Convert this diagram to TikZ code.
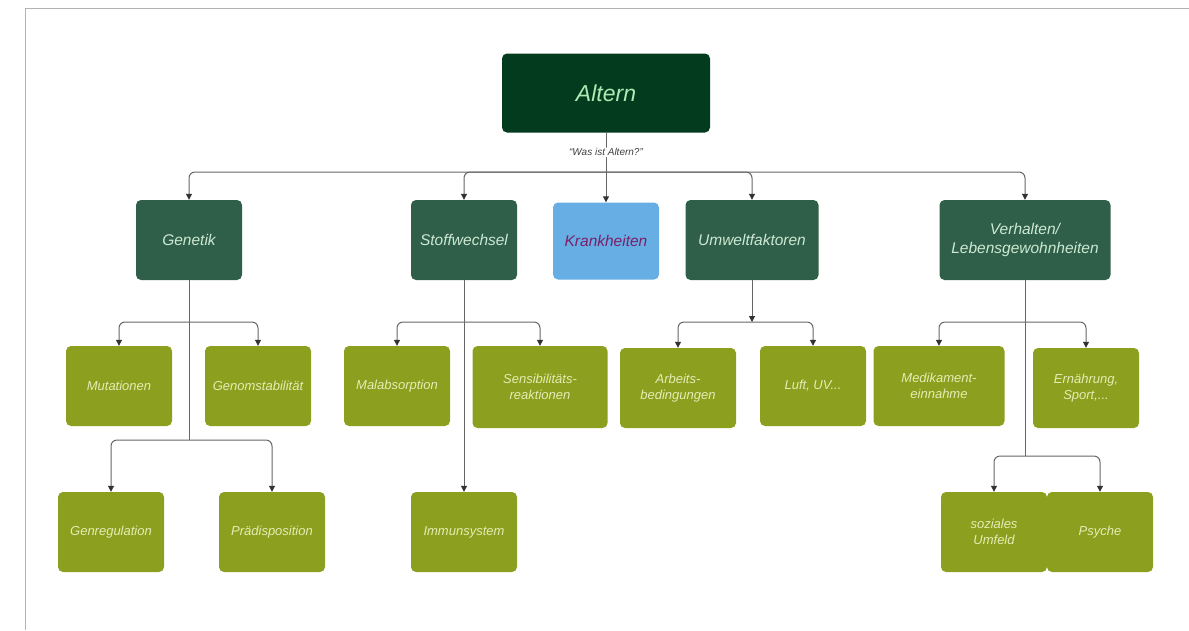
\documentclass[tikz,border=0pt]{standalone}
\usepackage{fontspec}
\setmainfont{Liberation Sans}
\setsansfont{Liberation Sans}
\usetikzlibrary{arrows.meta,positioning}
\definecolor{topgreen}{HTML}{033B1F}
\definecolor{midgreen}{HTML}{2F5F48}
\definecolor{olive}{HTML}{8C9F1F}
\definecolor{skyblue}{HTML}{66AEE3}
\definecolor{plum}{HTML}{7B1F6A}
\definecolor{palegreen}{HTML}{E4EEB4}
\definecolor{mintgreen}{HTML}{CDE8D3}
\definecolor{linegray}{HTML}{666666}

\begin{document}
\begin{tikzpicture}[x=1pt,y=-1pt,font=\sffamily\itshape,>={Triangle[width=6pt,length=6pt,color=black!80]},
  box/.style={rounded corners=5pt,minimum width=106pt,minimum height=80pt,align=center,inner sep=2pt},
  topbox/.style={box,fill=topgreen,text=mintgreen!85!green,minimum width=208pt,minimum height=79pt,font=\sffamily\itshape\fontsize{23}{27}\selectfont},
  areabox/.style={box,fill=midgreen,text=mintgreen,font=\sffamily\itshape\fontsize{15.5}{19}\selectfont},
  leafbox/.style={box,fill=olive,text=palegreen,font=\sffamily\itshape\fontsize{13}{16}\selectfont},
  link/.style={draw=linegray,line width=1pt,rounded corners=6pt}]
\useasboundingbox (0,0) rectangle (1189,630);
% frame
\draw[gray!60,line width=1pt] (1189,8) -- (25,8) -- (25,630);

% root
\node[topbox] (alt) at (606,93) {Altern};

% first level
\node[areabox] (gen) at (189,240) {Genetik};
\node[areabox] (stw) at (464,240) {Stoffwechsel};
\node[box,fill=skyblue,text=plum,minimum height=77pt,font=\sffamily\itshape\fontsize{15.5}{19}\selectfont] (kra) at (606,241) {Krankheiten};
\node[areabox,minimum width=133pt] (umw) at (752,240) {Umweltfaktoren};
\node[areabox,minimum width=171pt] (ver) at (1025,240) {Verhalten/\\Lebensgewohnheiten};

% second level
\node[leafbox] (mut) at (119,386) {Mutationen};
\node[leafbox] (gst) at (258,386) {Genomstabilität};
\node[leafbox] (grg) at (111,532) {Genregulation};
\node[leafbox] (prd) at (272,532) {Prädisposition};
\node[leafbox] (mal) at (397,386) {Malabsorption};
\node[leafbox,minimum width=135pt,minimum height=82pt] (sen) at (540,387) {Sensibilitäts-\\reaktionen};
\node[leafbox] (imm) at (464,532) {Immunsystem};
\node[leafbox,minimum width=116pt] (arb) at (678,388) {Arbeits-\\bedingungen};
\node[leafbox] (luf) at (813,386) {Luft, UV...};
\node[leafbox,minimum width=131pt] (med) at (939,386) {Medikament-\\einnahme};
\node[leafbox] (ern) at (1086,388) {Ernährung,\\Sport,...};
\node[leafbox] (soz) at (994,532) {soziales\\Umfeld};
\node[leafbox] (psy) at (1100,532) {Psyche};

% junctions
\coordinate (j0) at (606,172);
\coordinate (g1) at (189,322);
\coordinate (g2) at (189,440);
\coordinate (s1) at (464,322);
\coordinate (u1) at (752,322);
\coordinate (v1) at (1025,322);
\coordinate (v2) at (1025,456);

% connectors
\draw[link] (alt) -- node[fill=white,text=black!75,inner sep=1pt,font=\sffamily\itshape\fontsize{10}{12}\selectfont,pos=0.5] {``Was ist Altern?''} (j0);
\foreach \t in {gen,stw,umw,ver} \draw[link,->] (j0) -| (\t.north);
\draw[link,->] (j0) -- (kra.north);

\draw[link] (gen) -- (g2);
\draw[link,->] (g1) -| (mut.north);
\draw[link,->] (g1) -| (gst.north);
\draw[link,->] (g2) -| (grg.north);
\draw[link,->] (g2) -| (prd.north);

\draw[link] (stw) -- (s1);
\draw[link,->] (s1) -| (mal.north);
\draw[link,->] (s1) -| (sen.north);
\draw[link,->] (s1) -- (imm.north);

\draw[link,->] (umw) -- (u1);
\draw[link,->] (u1) -| (arb.north);
\draw[link,->] (u1) -| (luf.north);

\draw[link] (ver) -- (v2);
\draw[link,->] (v1) -| (med.north);
\draw[link,->] (v1) -| (ern.north);
\draw[link,->] (v2) -| (soz.north);
\draw[link,->] (v2) -| (psy.north);
\end{tikzpicture}
\end{document}
